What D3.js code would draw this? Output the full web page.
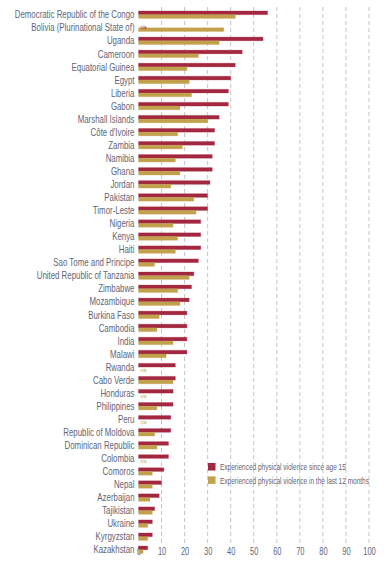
<!DOCTYPE html>
<html>
<head>
<meta charset="utf-8">
<script src="https://cdn.jsdelivr.net/npm/d3@7"></script>
<style>
  html, body { margin: 0; padding: 0; background: #ffffff; }
  svg { display: block; }
</style>
</head>
<body>
<div id="chart"></div>
<script>
const countries = [
  "Democratic Republic of the Congo", "Bolivia (Plurinational State of)", "Uganda", "Cameroon",
  "Equatorial Guinea", "Egypt", "Liberia", "Gabon", "Marshall Islands", "Côte d'Ivoire",
  "Zambia", "Namibia", "Ghana", "Jordan", "Pakistan", "Timor-Leste", "Nigeria", "Kenya",
  "Haiti", "Sao Tome and Principe", "United Republic of Tanzania", "Zimbabwe", "Mozambique",
  "Burkina Faso", "Cambodia", "India", "Malawi", "Rwanda", "Cabo Verde", "Honduras",
  "Philippines", "Peru", "Republic of Moldova", "Dominican Republic", "Colombia", "Comoros",
  "Nepal", "Azerbaijan", "Tajikistan", "Ukraine", "Kyrgyzstan", "Kazakhstan"
];
// null = n/a
const sinceAge15 = [
  56, null, 54, 45, 42, 40, 39, 39, 35, 33,
  33, 32, 32, 31, 30, 30, 27, 27, 27, 26,
  24, 23, 22, 21, 21, 21, 21, 16, 16, 15,
  15, 14, 14, 13, 13, 11, 10, 9, 7, 6, 6, 4
];
const last12Months = [
  42, 37, 35, 26, 21, 22, 23, 18, 30, 17,
  19, 16, 18, 14, 24, 25, 15, 17, 16, 7,
  22, 17, 18, 9, 8, 15, 12, null, 15, null,
  8, null, 7, 8, null, 6, 6, 5, 6, 4, 4, 2
];
const seriesKeys = ["since15", "last12"];
const seriesLabels = [
  "Experienced physical violence since age 15",
  "Experienced physical violence in the last 12 months"
];
const seriesColors = ["#a3283f", "#c2a14c"];
const xTicks = [0, 10, 20, 30, 40, 50, 60, 70, 80, 90, 100];

const W = 390, H = 568;
const svg = d3.select("#chart").append("svg").attr("width", W).attr("height", H);

const x = d3.scaleLinear().domain([0, 100]).range([138.5, 369]);
const step = 13.05;
const y = d3.scaleBand().domain(countries)
  .range([14.7 - step / 2, 14.7 - step / 2 + countries.length * step])
  .paddingInner(0.43).paddingOuter(0.215);
const ySub = d3.scaleBand().domain(seriesKeys).range([0, y.bandwidth()]);

const textColor = "#5e6577";
const font = "'Liberation Sans', Arial, sans-serif";

// horizontal condense factor measured from a reference string width
function condense(refText, targetWidth, size) {
  const t = svg.append("text").attr("font-family", font).attr("font-size", size).text(refText);
  const w = t.node().getComputedTextLength();
  t.remove();
  return targetWidth / w;
}

// gridlines
svg.append("g").selectAll("line").data(xTicks.filter(d => d > 0)).join("line")
  .attr("x1", d => x(d)).attr("x2", d => x(d))
  .attr("y1", 7).attr("y2", 544)
  .attr("stroke", "#c4c4c4").attr("stroke-width", 1)
  .attr("stroke-dasharray", "4,3");

// x axis labels
const sAxis = condense("100", 12.5, 11);
const xAxis = d3.axisBottom(x).tickValues(xTicks).tickSize(0).tickPadding(0);
const gx = svg.append("g").attr("transform", "translate(0,547)").call(xAxis);
gx.select(".domain").remove();
gx.selectAll("text").attr("font-family", font).attr("font-size", 11)
  .attr("fill", textColor).attr("dy", "0.71em")
  .attr("transform", `scale(${sAxis},1)`);

// data rows
const rows = countries.map((c, i) => ({ c, vals: [sinceAge15[i], last12Months[i]] }));
const g = svg.append("g");
const rowG = g.selectAll("g.row").data(rows).join("g")
  .attr("class", "row").attr("transform", d => `translate(0,${y(d.c)})`);

rowG.selectAll("rect").data(d => d.vals.map((v, k) => ({ v, k })).filter(e => e.v !== null))
  .join("rect")
  .attr("x", x(0))
  .attr("y", e => ySub(seriesKeys[e.k]))
  .attr("width", e => x(e.v) - x(0))
  .attr("height", ySub.bandwidth())
  .attr("fill", e => seriesColors[e.k])
  .attr("stroke", e => seriesColors[e.k]).attr("stroke-opacity", 0.25).attr("stroke-width", 1);

const sNa = condense("n/a", 6, 5);
rowG.selectAll("text.na").data(d => d.vals.map((v, k) => ({ v, k })).filter(e => e.v === null))
  .join("text").attr("class", "na")
  .attr("transform", e => `translate(${x(0) + 2},${ySub(seriesKeys[e.k]) + ySub.bandwidth() / 2 + 1}) scale(${sNa},1)`)
  .attr("dy", "0.35em")
  .attr("font-family", font).attr("font-size", 5)
  .attr("fill", e => seriesColors[e.k])
  .text("n/a");

// country labels
const sLbl = condense(countries[0], 120, 10.5);
g.selectAll("text.lbl").data(countries).join("text").attr("class", "lbl")
  .attr("transform", d => `translate(134.5,${y(d) + y.bandwidth() / 2}) scale(${sLbl},1)`)
  .attr("dy", "0.35em").attr("text-anchor", "end")
  .attr("font-family", font).attr("font-size", 10.5)
  .attr("fill", textColor)
  .text(d => d);

// legend
const sLeg = condense(seriesLabels[1], 149, 9.4);
const lg = svg.append("g").attr("transform", "translate(208,463)");
const li = lg.selectAll("g").data(seriesLabels).join("g")
  .attr("transform", (d, i) => `translate(0,${i * 13.4})`);
li.append("rect").attr("width", 7.5).attr("height", 7.5)
  .attr("fill", (d, i) => seriesColors[i]);
li.append("text").attr("transform", `translate(12,4) scale(${sLeg},1)`).attr("dy", "0.35em")
  .attr("font-family", font).attr("font-size", 9.4)
  .attr("fill", textColor).text(d => d);
</script>
</body>
</html>
